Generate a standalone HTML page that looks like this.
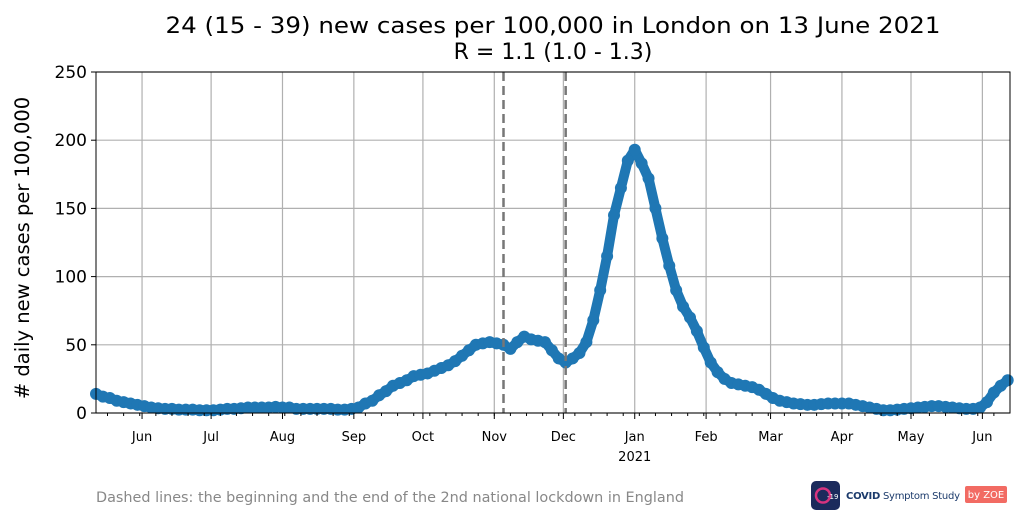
<!DOCTYPE html>
<html><head><meta charset="utf-8">
<style>
body{margin:0;background:#fff;font-family:"DejaVu Sans","Liberation Sans",sans-serif;}
svg text{font-family:"DejaVu Sans","Liberation Sans",sans-serif;}
</style></head>
<body>
<svg id="chart" width="1024" height="520" viewBox="0 0 1024 520" xmlns="http://www.w3.org/2000/svg">
<rect width="1024" height="520" fill="#fff"/>
<text x="553" y="33" font-size="22" textLength="775" lengthAdjust="spacingAndGlyphs" text-anchor="middle" fill="#000">24 (15 - 39) new cases per 100,000 in London on 13 June 2021</text>
<text x="553" y="59" font-size="22" text-anchor="middle" fill="#000">R = 1.1 (1.0 - 1.3)</text>
<text transform="translate(29,248) rotate(-90)" font-size="19.5" text-anchor="middle" fill="#000"># daily new cases per 100,000</text>
<g id="grid"></g>
<g id="marks"></g>
<rect x="96" y="72" width="914" height="341" fill="none" stroke="#000" stroke-width="1"/>
<g id="ticks"></g>
<text x="96" y="502" font-size="14.4" fill="#888">Dashed lines: the beginning and the end of the 2nd national lockdown in England</text>
<g>
<rect x="811" y="481" width="29" height="29" rx="5" fill="#1b2a5c"/>
<circle cx="823" cy="495.5" r="7" fill="none" stroke="#d6337f" stroke-width="2.5"/>
<text x="827" y="499" font-size="7" fill="#fff">-19</text>
<text x="846" y="499" font-size="10" fill="#1b3a6b" textLength="114"><tspan font-weight="bold">COVID</tspan> Symptom Study</text>
<rect x="965" y="486" width="42" height="17" rx="2" fill="#f26b63"/>
<text x="986" y="498" font-size="10" fill="#fff" text-anchor="middle">by ZOE</text>
</g>
</svg>
<script>
const values=[14,12,11,9,8,7,6,5,4,3.5,3,3,2.5,2.5,2.5,2,2,2,2.5,3,3,3.5,4,4,4,4,4.5,4,4,3,3,3,3,3,3,2.5,2.5,3,4,7,9,13,16,20,22,24,27,28,29,31,33,35,38,42,46,50,51,52,51,50,47,52,56,54,53,52,46,40,37,40,44,52,68,90,115,145,165,185,193,183,172,150,128,108,90,78,70,60,48,37,30,25,22,21,20,19,17,14,11,9,8,7,6.5,6,6,6.5,7,7,7,7,6,5,4,3,2,2,2.5,3,3.5,4,4.5,5,5,4.5,4,3.5,3,3,4,8,15,20,24];
const dayStep=3;
const monthLabels=["Jun","Jul","Aug","Sep","Oct","Nov","Dec","Jan","Feb","Mar","Apr","May","Jun"];
const monthDays=[20,50,81,112,142,173,203,234,265,293,324,354,385];
const yTicks=[0,50,100,150,200,250];
const lockdownDays=[177,204];
const NS="http://www.w3.org/2000/svg";
const X0=96,X1=1010,Y0=413,Y1=72,DMAX=397;
const x=d=>X0+d*(X1-X0)/DMAX;
const y=v=>Y0-v*(Y0-Y1)/250;
function mk(tag,attrs,parent){const e=document.createElementNS(NS,tag);for(const k in attrs)e.setAttribute(k,attrs[k]);parent.appendChild(e);return e;}
const grid=document.getElementById('grid'),marks=document.getElementById('marks'),ticks=document.getElementById('ticks');
yTicks.forEach(v=>{
  const g=mk('line',{x1:X0,x2:X1,y1:y(v),y2:y(v),stroke:'#b0b0b0','stroke-width':1.2},grid);
  
  
  mk('line',{x1:X0-5,x2:X0,y1:y(v),y2:y(v),stroke:'#000'},ticks);
  const t=mk('text',{x:X0-9,y:y(v)+6,'font-size':17,'text-anchor':'end',fill:'#000'},ticks);
  t.textContent=v;
  
  
});
monthDays.forEach((d,i)=>{
  const g=mk('line',{x1:x(d),x2:x(d),y1:Y1,y2:Y0,stroke:'#b0b0b0','stroke-width':1.2},grid);
  
  
  mk('line',{x1:x(d),x2:x(d),y1:Y0,y2:Y0+6,stroke:'#000'},ticks);
  const t=mk('text',{x:x(d),y:441,'font-size':13,'text-anchor':'middle',fill:'#000'},ticks);
  t.textContent=monthLabels[i];
  
  
});
for(let d=5;d<DMAX;d+=7){mk('line',{x1:x(d),x2:x(d),y1:Y0,y2:Y0+3,stroke:'#000'},ticks);}
const yr=mk('text',{x:x(234),y:461,'font-size':13,'text-anchor':'middle',fill:'#000'},ticks);
yr.textContent='2021';


let pts=values.map((v,i)=>x(i*dayStep)+','+y(v)).join(' ');
const ln=mk('polyline',{points:pts,fill:'none',stroke:'#1f77b4','stroke-width':10,'stroke-linejoin':'round','stroke-linecap':'round'},marks);


values.forEach((v,i)=>{
  const c=mk('circle',{cx:x(i*dayStep),cy:y(v),r:6,fill:'#1f77b4'},marks);
  
  
});
lockdownDays.forEach(d=>{
  const l=mk('line',{x1:x(d),x2:x(d),y1:Y1,y2:Y0,stroke:'#777','stroke-width':2.5,'stroke-dasharray':'9,5'},marks);
  
  
});
</script>
</body></html>
